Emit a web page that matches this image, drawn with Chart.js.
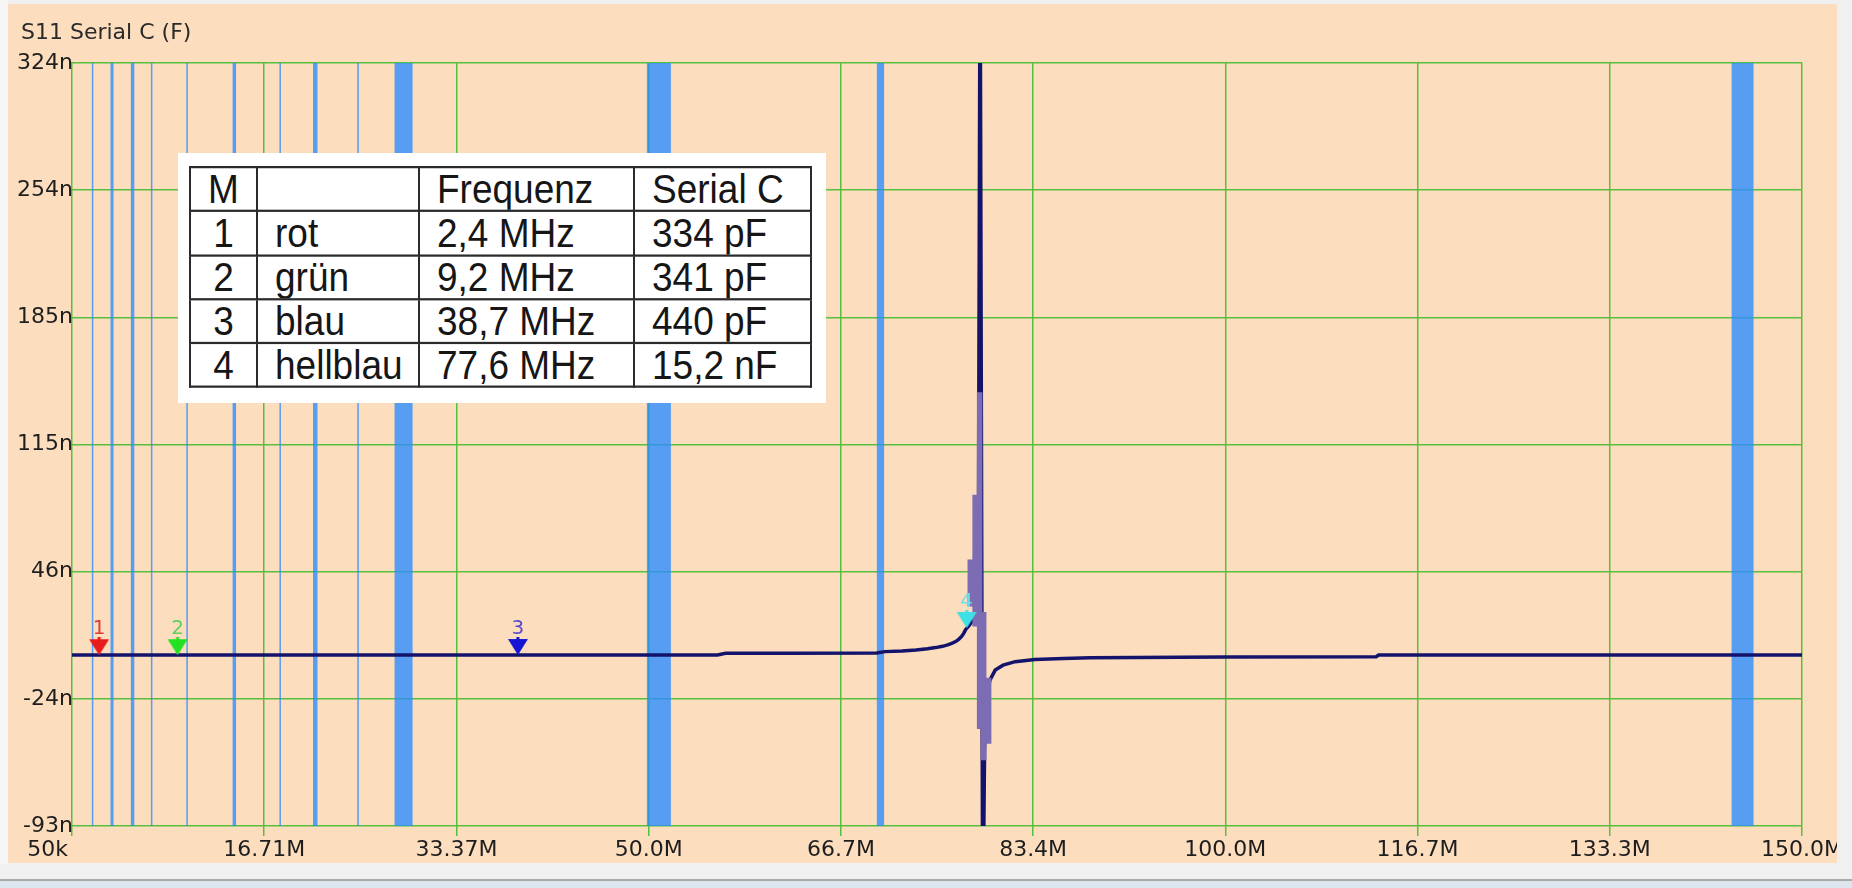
<!DOCTYPE html>
<html>
<head>
<meta charset="utf-8">
<script src="https://cdn.jsdelivr.net/npm/chart.js@4.4.1/dist/chart.umd.min.js"></script>
<style>
html,body{margin:0;padding:0;width:1852px;height:888px;overflow:hidden;background:#f0f0f0;}
#leftstrip{position:absolute;left:0;top:0;width:8px;height:864px;background:#f6f6f6;}
#wrap{position:absolute;left:8px;top:4px;width:1829px;height:859px;background:#fcdebf;}
#wrap canvas{position:absolute;left:0;top:0;}
#title{position:absolute;left:13px;top:17px;font-size:22px;line-height:22px;font-family:'DejaVu Sans',sans-serif;color:#2a2a2a;white-space:nowrap;}
#tbox{position:absolute;left:170px;top:149px;width:648px;height:250px;background:#ffffff;}
#tbl{position:absolute;left:11px;top:13px;border-collapse:collapse;table-layout:fixed;width:621px;transform:scaleY(1.12);transform-origin:0 0;font-family:'Liberation Sans',Arial,sans-serif;font-size:37px;color:#161616;}
#tbl td{border:2.5px solid #2b2b2b;height:37.3px;line-height:37.3px;padding:0 0 0 17px;white-space:nowrap;overflow:hidden;vertical-align:middle;}
#tbl td.c0{padding:0;text-align:center;}
#bot1{position:absolute;left:0;top:879px;width:1852px;height:2px;background:#a9a9a9;}
#bot2{position:absolute;left:0;top:881px;width:1852px;height:7px;background:#dde5ee;}
</style>
</head>
<body>
<div id="leftstrip"></div>
<div id="wrap">
  <canvas id="c" width="1829" height="859"></canvas>
  <div id="title">S11 Serial C (F)</div>
  <div id="tbox"><table id="tbl"><colgroup><col style="width:67px"><col style="width:162px"><col style="width:215px"><col style="width:177px"></colgroup><tbody id="tb"></tbody></table></div>
</div>
<div id="bot1"></div>
<div id="bot2"></div>
<script>
// ---------- data ----------
const xTickValues = [0.05, 16.711, 33.372, 50.033, 66.694, 83.356, 100.017, 116.678, 133.339, 150.0];
const xTickLabels = ['50k', '16.71M', '33.37M', '50.0M', '66.7M', '83.4M', '100.0M', '116.7M', '133.3M', '150.0M'];
const yTickValues = [-93, -23.5, 46, 115.5, 185, 254.5, 324];
const yTickLabels = ['-93n', '-24n', '46n', '115n', '185n', '254n', '324n'];

// S11 Serial C trace (frequency in MHz, value in nF)
const traceFreq = [0.05, 5, 15, 25, 35, 45, 56.0, 56.7, 62, 69.8, 70.5, 72.0, 73.2, 74.2, 74.9, 75.5, 75.95, 76.3, 76.64, 76.9, 77.16, 77.35, 77.5, 77.8, 78.1, 78.4, 78.6, 78.76, 78.99, 79.15, 79.35, 79.6, 80.07, 80.75, 81.8, 83.5, 86.0, 88.3, 100.0, 113.1, 113.3, 130.0, 150.0];
const traceVal  = [0.4, 0.4, 0.4, 0.4, 0.4, 0.5, 0.5, 1.4, 1.4, 1.5, 2.3, 2.7, 3.2, 3.9, 4.5, 5.2, 6.0, 6.8, 7.8, 9.0, 10.6, 12.4, 14.3, 16.5, 19.0, 22.0, 26.0, 400, -160, -50, -25, -13.4, -7.8, -5.1, -3.2, -2.0, -1.4, -1.0, -0.7, -0.5, 0.4, 0.4, 0.4];

// lighter min/max envelope around the resonance
const envFreq = [77.91, 78.33, 78.72, 79.07, 79.5];
const envLow  = [27, 16, -40, -57, -48];
const envHigh = [52.6, 88, 144, 24, -12];

// highlighted frequency bands (MHz)
const bandStart = [1.77, 3.39, 5.15, 6.89, 9.96, 13.97, 18.03, 20.94, 24.78, 28.01, 49.88, 69.81, 143.9];
const bandEnd   = [1.90, 3.65, 5.45, 7.02, 10.09, 14.27, 18.16, 21.33, 24.91, 29.57, 51.96, 70.44, 145.8];

// markers
const markerFreq  = [2.4, 9.2, 38.7, 77.6];
const markerVal   = [0.334, 0.341, 0.44, 15.2];
const markerLabel = ['1', '2', '3', '4'];

// table
const tableHead  = ['M', '', 'Frequenz', 'Serial C'];
const tableNum   = ['1', '2', '3', '4'];
const tableName  = ['rot', 'grün', 'blau', 'hellblau'];
const tableFreq  = ['2,4 MHz', '9,2 MHz', '38,7 MHz', '77,6 MHz'];
const tableValue = ['334 pF', '341 pF', '440 pF', '15,2 nF'];

// ---------- styles ----------
const FONT_FAMILY = "'DejaVu Sans',sans-serif";
const GRID = '#56c03e';
const BAND = 'rgba(45,140,255,0.8)';
const TRACE = '#13136c';
const ENV = '#7b6cb3';
const markerColor = ['#e81c1c', '#22e022', '#1414d2', '#3ee0e6'];
const markerTextColor = ['#e03a3a', '#58d458', '#5a48d0', '#6fdcec'];

// ---------- table ----------
(function () {
  const tb = document.getElementById('tb');
  const rows = [tableHead];
  for (let i = 0; i < tableNum.length; i++) rows.push([tableNum[i], tableName[i], tableFreq[i], tableValue[i]]);
  rows.forEach(r => {
    const tr = document.createElement('tr');
    r.forEach((t, j) => {
      const td = document.createElement('td');
      if (j === 0) td.className = 'c0';
      td.textContent = t;
      tr.appendChild(td);
    });
    tb.appendChild(tr);
  });
})();

// ---------- marker symbols ----------
function makeMarker(color) {
  const c = document.createElement('canvas');
  c.width = 22; c.height = 36;
  const g = c.getContext('2d');
  g.fillStyle = color;
  g.beginPath();
  g.moveTo(1, 2); g.lineTo(21, 2); g.lineTo(11, 18); g.closePath();
  g.fill();
  g.fillRect(9.5, 0, 3, 4);
  return c;
}
const markerImgs = markerColor.map(makeMarker);

// ---------- datasets ----------
const datasets = [];
datasets.push({
  label: 'Marker',
  data: markerFreq.map((f, i) => ({x: f, y: markerVal[i]})),
  showLine: false,
  pointStyle: markerImgs,
  pointRadius: 10,
  order: 0
});
const envData = [];
envFreq.forEach((f, i) => {
  envData.push({x: f, y: envLow[i]}, {x: f, y: envHigh[i]}, {x: f, y: null});
});
datasets.push({
  label: 'Envelope',
  data: envData,
  borderColor: ENV,
  borderWidth: 5.5,
  borderCapStyle: 'butt',
  pointRadius: 0,
  spanGaps: false,
  fill: false,
  order: 1
});
datasets.push({
  label: 'S11 Serial C',
  data: traceFreq.map((f, i) => ({x: f, y: traceVal[i]})),
  borderColor: TRACE,
  borderWidth: 3.5,
  pointRadius: 0,
  tension: 0,
  fill: false,
  order: 2
});
bandStart.forEach((s, i) => {
  const e = bandEnd[i];
  datasets.push({
    label: 'Band ' + (i + 1),
    data: [{x: s, y: yTickValues[0]}, {x: s, y: yTickValues[yTickValues.length - 1]}, {x: e, y: yTickValues[yTickValues.length - 1]}, {x: e, y: yTickValues[0]}],
    borderColor: 'rgba(0,0,0,0)',
    borderWidth: 1,
    backgroundColor: BAND,
    fill: 'shape',
    pointRadius: 0,
    order: 10
  });
});

// ---------- plugins ----------
const xLabelPlugin = {
  id: 'xLabels',
  afterDraw(chart) {
    const sc = chart.scales.x, ctx = chart.ctx;
    ctx.save();
    ctx.font = '22px ' + FONT_FAMILY;
    ctx.fillStyle = '#1e1e1e';
    ctx.textBaseline = 'alphabetic';
    xTickValues.forEach((v, i) => {
      const px = sc.getPixelForValue(v);
      ctx.textAlign = i === 0 ? 'right' : 'center';
      ctx.fillText(xTickLabels[i], i === 0 ? px - 4 : px, 852);
    });
    ctx.restore();
  }
};
const markerLabelPlugin = {
  id: 'markerLabels',
  afterDatasetsDraw(chart) {
    const meta = chart.getDatasetMeta(0), ctx = chart.ctx;
    ctx.save();
    ctx.font = '20px ' + FONT_FAMILY;
    ctx.textAlign = 'center';
    ctx.textBaseline = 'alphabetic';
    meta.data.forEach((el, i) => {
      ctx.fillStyle = markerTextColor[i];
      ctx.fillText(markerLabel[i], el.x, el.y - 21);
    });
    ctx.restore();
  }
};

Chart.defaults.font.family = FONT_FAMILY;

new Chart(document.getElementById('c'), {
  type: 'line',
  data: {datasets},
  options: {
    responsive: false,
    animation: false,
    events: [],
    layout: {padding: {left: 0, top: 59, right: 35, bottom: 0}},
    plugins: {legend: {display: false}, tooltip: {enabled: false}, title: {display: false}},
    scales: {
      x: {
        type: 'linear',
        min: xTickValues[0],
        max: xTickValues[xTickValues.length - 1],
        afterBuildTicks: s => { s.ticks = xTickValues.map(v => ({value: v})); },
        afterFit: s => { s.height = 37; },
        ticks: {display: false, autoSkip: false},
        grid: {color: GRID, lineWidth: 1.5, drawTicks: true, tickLength: 10},
        border: {display: false}
      },
      y: {
        type: 'linear',
        min: yTickValues[0],
        max: yTickValues[yTickValues.length - 1],
        afterBuildTicks: s => { s.ticks = yTickValues.map(v => ({value: v})); },
        afterFit: s => { s.width = 64; },
        ticks: {
          autoSkip: false,
          padding: -4,
          color: '#1e1e1e',
          font: {size: 22},
          callback: (v, i) => yTickLabels[i]
        },
        grid: {color: GRID, lineWidth: 1.5, drawTicks: true, tickLength: 3},
        border: {display: false}
      }
    }
  },
  plugins: [xLabelPlugin, markerLabelPlugin]
});
</script>
</body>
</html>
